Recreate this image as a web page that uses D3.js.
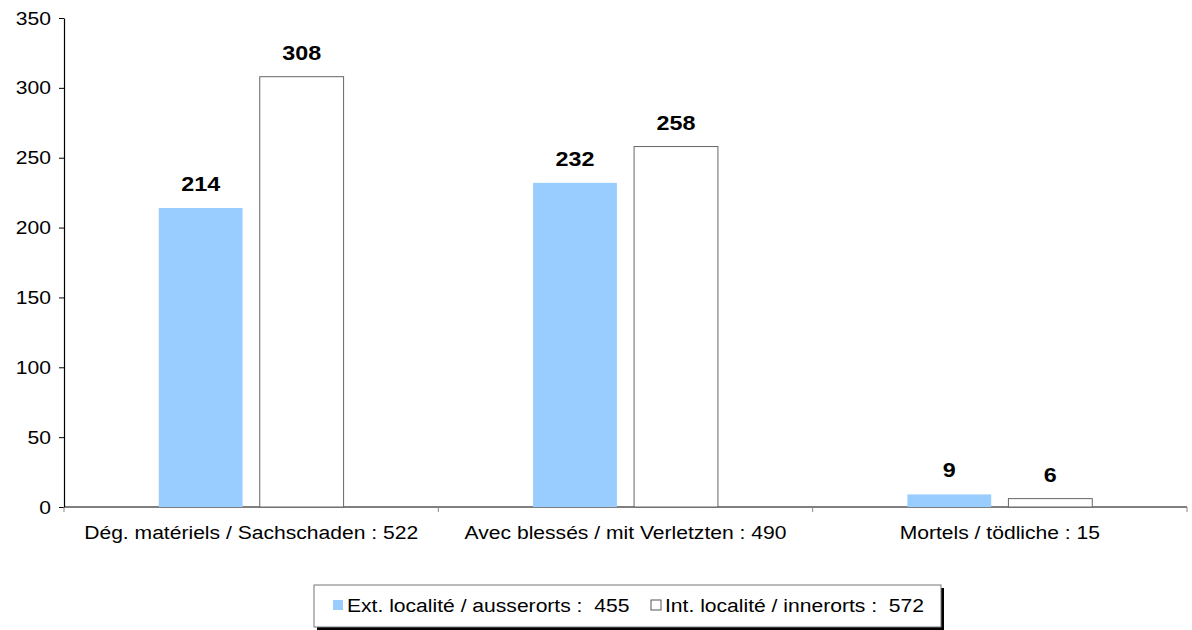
<!DOCTYPE html>
<html><head><meta charset="utf-8">
<script src="https://cdn.jsdelivr.net/npm/d3@7"></script>
<style>body{margin:0;background:#fff}svg text{font-family:"Liberation Sans",Arial,sans-serif}</style>
</head><body><svg id="c" width="1192" height="630"></svg>
<script>
const categories = ["Dég. matériels / Sachschaden : 522", "Avec blessés / mit Verletzten : 490", "Mortels / tödliche : 15"];
const seriesNames = ["Ext. localité / ausserorts :  455", "Int. localité / innerorts :  572"];
const extValues = [214, 232, 9];
const intValues = [308, 258, 6];
const yTicks = [0, 50, 100, 150, 200, 250, 300, 350];

(function () {
const svg = d3.select("#c");
const SX = 1.11;
const mLeft = 64, mRight = 1187, mTop = 18, mBottom = 507;
const x = d3.scaleBand().domain(categories).range([mLeft, mRight]);
const y = d3.scaleLinear().domain([0, 350]).range([mBottom, mTop]);
const inner = d3.scaleBand().domain([0, 1]).range([0, x.bandwidth()]).paddingInner(0.17).paddingOuter(0.938);

// Y axis
const ya = svg.append("g").attr("transform", `translate(${mLeft},0)`)
  .call(d3.axisLeft(y).tickValues(yTicks).tickSize(5).tickSizeOuter(0).tickPadding(8));
ya.select(".domain").attr("stroke", "#000").attr("stroke-width", 1.2);
ya.selectAll(".tick line").attr("stroke", "#000");
ya.selectAll(".tick text").each(function () {
  const t = d3.select(this);
  const xx = +t.attr("x");
  t.attr("x", null).attr("font-size", 19).attr("fill", "#000")
   .attr("font-family", "Liberation Sans, Arial, sans-serif")
   .attr("transform", `translate(${xx},0) scale(${SX},1)`);
});

// X axis
const xa = svg.append("g").attr("transform", `translate(0,${mBottom})`);
xa.append("line").attr("x1", mLeft).attr("x2", mRight).attr("stroke", "#000").attr("stroke-width", 1.2);
const bounds = [mLeft].concat(categories.map(c => x(c) + x.bandwidth()));
xa.selectAll("line.tk").data(bounds).join("line").attr("class", "tk")
  .attr("x1", d => d).attr("x2", d => d).attr("y1", 0).attr("y2", 5).attr("stroke", "#888");
xa.selectAll("text").data(categories).join("text")
  .attr("transform", d => `translate(${x(d) + x.bandwidth() / 2},32) scale(${SX},1)`)
  .attr("text-anchor", "middle").attr("font-size", 19).attr("fill", "#000").text(d => d);

const data = [extValues, intValues];
const fills = ["#99ccff", "#ffffff"];
const strokes = ["none", "#666"];
data.forEach((vals, s) => {
  const g = svg.append("g");
  g.selectAll("rect").data(vals).join("rect")
    .attr("x", (d, i) => x(categories[i]) + inner(s))
    .attr("y", d => y(d))
    .attr("width", inner.bandwidth())
    .attr("height", d => mBottom - y(d))
    .attr("fill", fills[s]).attr("stroke", strokes[s]).attr("stroke-width", 1);
  g.selectAll("text").data(vals).join("text")
    .attr("transform", (d, i) => `translate(${x(categories[i]) + inner(s) + inner.bandwidth() / 2},${y(d) - 17}) scale(${SX},1)`)
    .attr("text-anchor", "middle").attr("font-size", 21).attr("font-weight", "bold").attr("fill", "#000")
    .text(d => d);
});

// Legend
const lg = svg.append("g");
const lx = 314, ly = 585, lw = 627, lh = 42;
lg.append("rect").attr("x", lx + 3).attr("y", ly + 3).attr("width", lw).attr("height", lh).attr("fill", "#000");
lg.append("rect").attr("x", lx).attr("y", ly).attr("width", lw).attr("height", lh).attr("fill", "#fff").attr("stroke", "#777");
const items = [{x: 333, t: seriesNames[0]}, {x: 651, t: seriesNames[1]}];
items.forEach((it, i) => {
  lg.append("rect").attr("x", it.x).attr("y", 600).attr("width", 10).attr("height", 10)
    .attr("fill", fills[i]).attr("stroke", i ? "#555" : "none");
  lg.append("text").attr("transform", `translate(${it.x + 14},612) scale(${SX},1)`)
    .attr("font-size", 19).attr("fill", "#000")
    .style("white-space", "pre").text(it.t);
});
})();
</script></body></html>
